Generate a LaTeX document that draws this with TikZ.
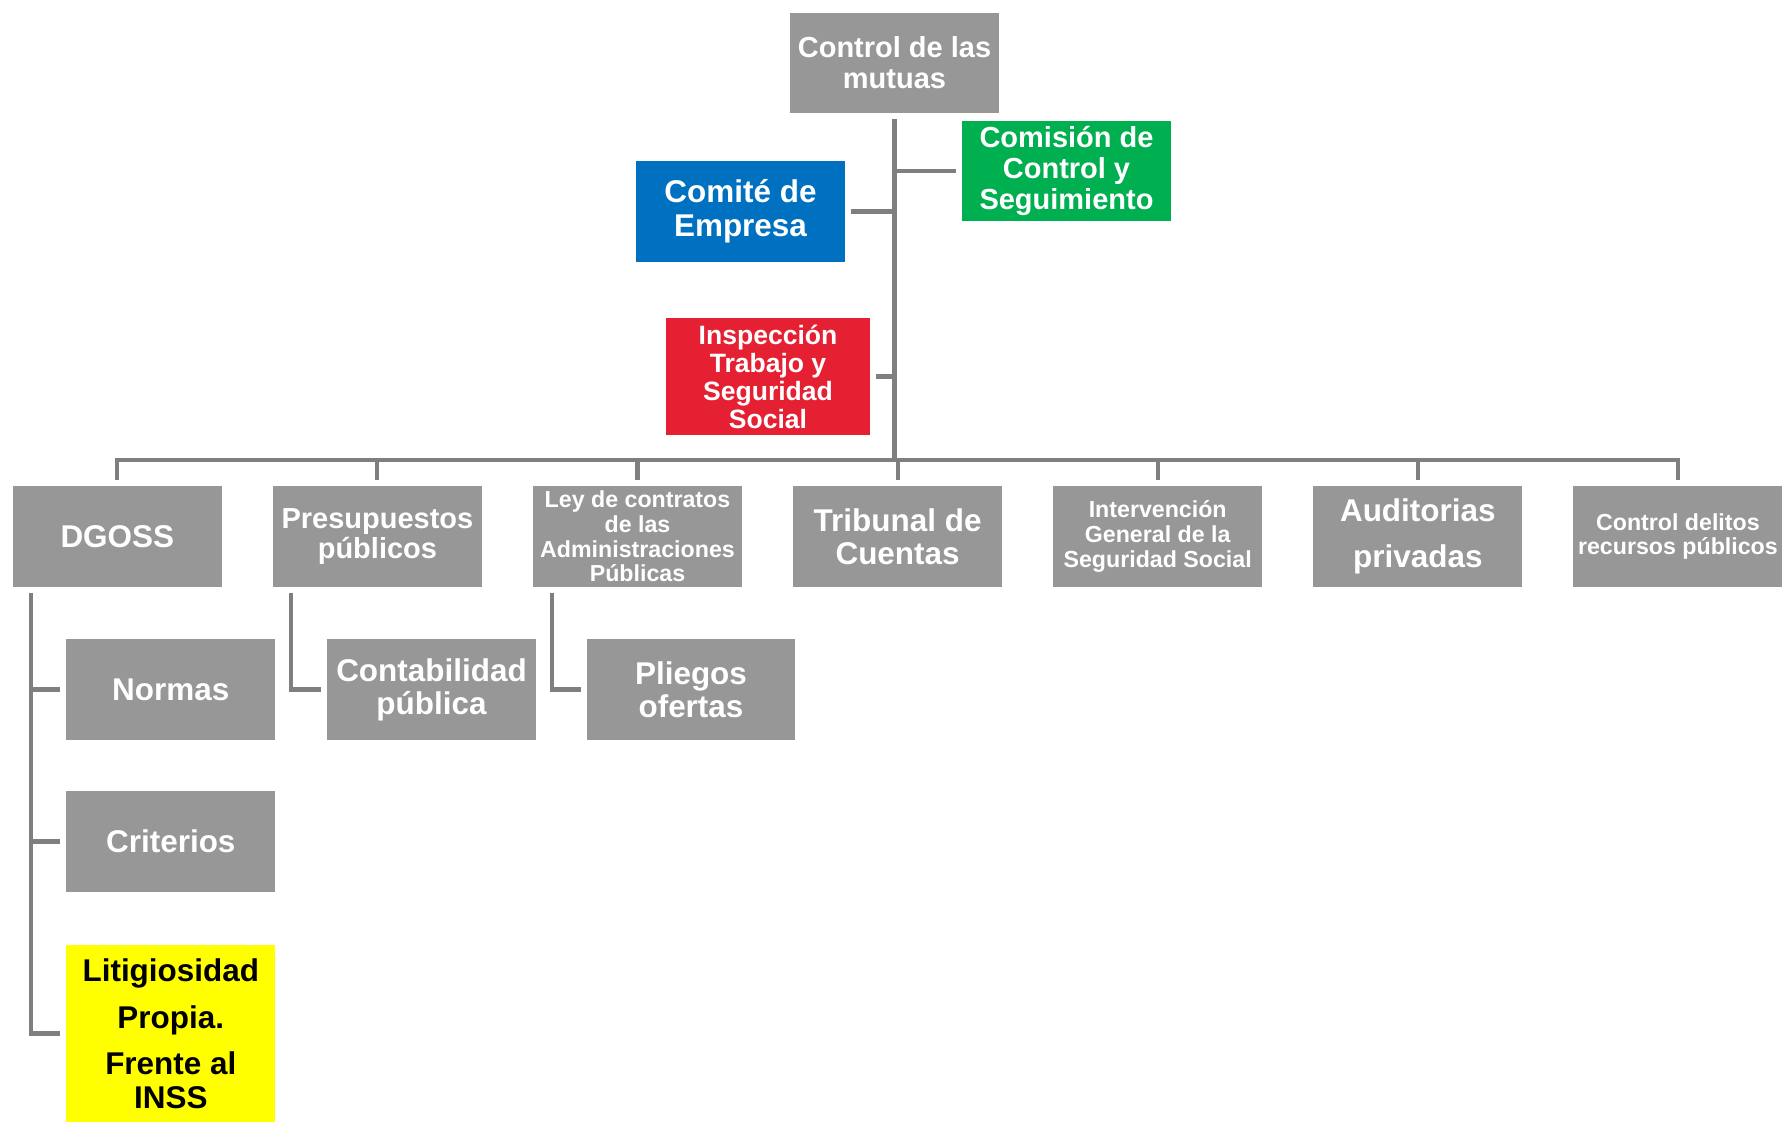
\documentclass[tikz,border=0pt]{standalone}
\usepackage{fontspec}
\setmainfont{Liberation Sans}
\definecolor{boxgray}{RGB}{151,151,151}
\definecolor{linegray}{RGB}{127,127,127}
\definecolor{comiteblue}{RGB}{0,112,192}
\definecolor{comisiongreen}{RGB}{0,176,80}
\definecolor{itssred}{RGB}{228,32,50}
\definecolor{litigyellow}{RGB}{255,255,0}

\begin{document}
\begin{tikzpicture}[x=0.02cm,y=-0.02cm,
  box/.style={fill=boxgray,text=white,align=center,inner sep=0pt,outer sep=0.12cm,
    minimum width=4.18cm,minimum height=2.02cm,font=\fontsize{17.9}{18.8}\selectfont\bfseries},
  midtext/.style={font=\fontsize{16.5}{17.5}\selectfont\bfseries},
  smalltext/.style={font=\fontsize{13.2}{14.1}\selectfont\bfseries},
  conn/.style={draw=linegray,line width=2.3pt}]
\useasboundingbox (0,0) rectangle (1785,1122);

\node[box,midtext] (root) at (894.5,63) {Control de las\\mutuas};
\node[box,midtext,fill=comisiongreen] (comision) at (1066.5,171) {Comisión de\\Control y\\Seguimiento};
\node[box,fill=comiteblue,font=\fontsize{17.9}{19.4}\selectfont\bfseries] (comite) at (740.5,211.5) {Comité de\\Empresa};
\node[box,fill=itssred,minimum width=4.08cm,minimum height=2.34cm,
  font=\fontsize{15.1}{15.9}\selectfont\bfseries] (itss) at (768,376.5) {Inspección\\Trabajo y\\Seguridad\\Social};

\coordinate (bus) at (0,460);

\node[box] (dgoss) at (117.3,536.5) {DGOSS};
\node[box,midtext] (presup) at (377.4,536.5) {Presupuestos\\públicos};
\node[box,smalltext] (ley) at (637.5,536.5) {Ley de contratos\\de las\\Administraciones\\Públicas};
\node[box] (tribunal) at (897.6,536.5) {Tribunal de\\Cuentas};
\node[box,smalltext] (interv) at (1157.7,536.5) {Intervención\\General de la\\Seguridad Social};
\node[box] (audit) at (1417.8,536.5) {Auditorias\\[7pt]privadas};
\node[box,smalltext] (delitos) at (1677.9,536.5) {Control delitos\\recursos públicos};

\node[box] (normas) at (170.8,689.5) {Normas};
\node[box] (criterios) at (170.8,841.5) {Criterios};
\node[box,fill=litigyellow,text=black,minimum height=3.54cm] (litig) at (170.8,1033.5)
  {Litigiosidad\\[7.8pt]Propia.\\[7.8pt]Frente al\\INSS};
\node[box] (contab) at (431.5,689.5) {Contabilidad\\pública};
\node[box] (pliegos) at (691,689.5) {Pliegos\\ofertas};

\draw[conn] (root.south) -- (root.south |- bus);
\draw[conn] (comision.west) -- (comision.west -| root.south);
\draw[conn] (comite.east) -- (comite.east -| root.south);
\draw[conn] (itss.east) -- (itss.east -| root.south);
\draw[conn] (dgoss.north) -- (dgoss.north |- bus) -- (delitos.north |- bus) -- (delitos.north);
\foreach \n in {presup,ley,tribunal,interv,audit}
  \draw[conn] (\n.north |- bus) -- (\n.north);

\coordinate (dgline) at ([xshift=0.49cm]dgoss.south west);
\draw[conn] (dgline) |- (litig.west);
\draw[conn] (normas.west) -- (normas.west -| dgline);
\draw[conn] (criterios.west) -- (criterios.west -| dgline);
\draw[conn] ([xshift=0.49cm]presup.south west) |- (contab.west);
\draw[conn] ([xshift=0.49cm]ley.south west) |- (pliegos.west);
\end{tikzpicture}
\end{document}
